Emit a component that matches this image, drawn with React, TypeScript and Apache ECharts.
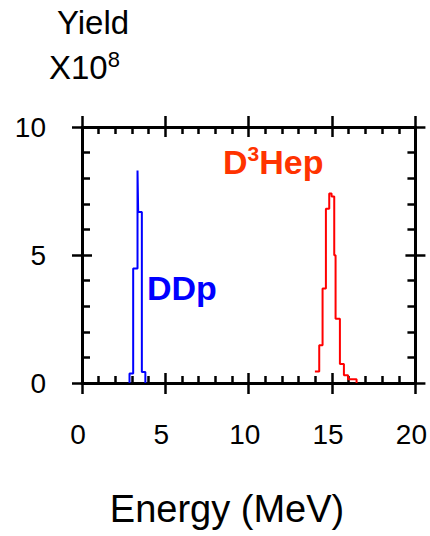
import React, { useEffect, useRef } from "react";
import * as echarts from "echarts";

// Bin edges (MeV) and yields (x10^8)
const ddpEdges = [2.85, 3.07, 3.33, 3.37, 3.59, 3.8];
const ddpCounts = [0.37, 4.47, 8.3, 6.68, 0.43];
const d3hepEdges = [13.97, 14.23, 14.43, 14.63, 14.83, 14.97, 15.13, 15.21, 15.47, 15.71, 15.96, 16.47];
const d3hepCounts = [0.45, 1.47, 3.69, 6.81, 7.4, 7.29, 4.99, 2.51, 0.74, 0.3, 0.15];
const xTicks = [0, 5, 10, 15, 20];
const yTicks = [0, 5, 10];

const FONT = "'Liberation Sans', Arial, Helvetica, sans-serif";

function stepPoints(edges: number[], counts: number[], fromBase: boolean) {
  const pts: number[][] = [];
  if (fromBase) pts.push([edges[0], 0]);
  edges.forEach((e, i) => pts.push([e, i < counts.length ? counts[i] : 0]));
  return pts;
}

export default function App() {
  const ref = useRef<HTMLDivElement>(null);
  useEffect(() => {
    if (!ref.current) return;
    const chart = echarts.init(ref.current, null, { renderer: "svg" });
    const tickStyle = { color: "#000", width: 2.5 };
    const mkX = (position: string, outer: boolean, labels: boolean) => ({
      type: "value",
      min: xTicks[0],
      max: xTicks[xTicks.length - 1],
      interval: 5,
      position,
      axisLine: { show: outer, onZero: false, lineStyle: { color: "#000", width: 3 } },
      axisTick: { show: true, inside: !outer, length: outer ? 11 : 10, lineStyle: tickStyle },
      minorTick: { show: !outer, splitNumber: 5, length: 7, lineStyle: tickStyle },
      axisLabel: {
        show: labels,
        color: "#000",
        fontSize: 28,
        fontFamily: FONT,
        margin: 37,
        padding: [0, 8, 0, 0],
      },
      splitLine: { show: false },
    });
    const mkY = (position: string, outer: boolean, labels: boolean) => ({
      type: "value",
      min: yTicks[0],
      max: yTicks[yTicks.length - 1],
      interval: 5,
      position,
      axisLine: { show: outer, onZero: false, lineStyle: { color: "#000", width: 3 } },
      axisTick: { show: true, inside: !outer, length: 10, lineStyle: tickStyle },
      minorTick: { show: !outer, splitNumber: 5, length: 8, lineStyle: tickStyle },
      axisLabel: {
        show: labels,
        color: "#000",
        fontSize: 28,
        fontFamily: FONT,
        margin: 36,
        padding: [0, 0, 8, 0],
      },
      splitLine: { show: false },
    });
    chart.setOption({
      animation: false,
      backgroundColor: "#fff",
      grid: { left: 82, top: 127, width: 334, height: 256, containLabel: false },
      xAxis: [
        mkX("bottom", true, true),
        mkX("bottom", false, false),
        mkX("top", true, false),
        mkX("top", false, false),
      ],
      yAxis: [
        mkY("left", true, true),
        mkY("left", false, false),
        mkY("right", true, false),
        mkY("right", false, false),
      ],
      series: [
        {
          name: "DDp",
          type: "line",
          step: "end",
          xAxisIndex: 0,
          yAxisIndex: 0,
          symbol: "none",
          lineStyle: { color: "#0000ff", width: 2 },
          data: stepPoints(ddpEdges, ddpCounts, true),
        },
        {
          name: "D3Hep",
          type: "line",
          step: "end",
          xAxisIndex: 0,
          yAxisIndex: 0,
          symbol: "none",
          lineStyle: { color: "#ff0000", width: 2 },
          data: stepPoints(d3hepEdges, d3hepCounts, false),
        },
      ],
      graphic: [
        {
          type: "text",
          left: 57,
          top: 6,
          style: { text: "Yield", fill: "#000", fontSize: 33, fontFamily: FONT },
        },
        {
          type: "text",
          left: 49,
          top: 48,
          style: {
            text: "{a|X10}{b|8}",
            fill: "#000",
            fontFamily: FONT,
            rich: {
              a: { fontSize: 33, fontFamily: FONT, fill: "#000", lineHeight: 38 },
              b: { fontSize: 22, fontFamily: FONT, fill: "#000", verticalAlign: "top", lineHeight: 24 },
            },
          },
        },
        {
          type: "text",
          x: 227,
          y: 509,
          style: {
            text: "Energy (MeV)",
            fill: "#000",
            fontSize: 38,
            fontFamily: FONT,
            align: "center",
            verticalAlign: "middle",
          },
        },
        {
          type: "text",
          x: 147,
          y: 288,
          style: {
            text: "DDp",
            fill: "#0000ff",
            fontSize: 34,
            fontWeight: "bold",
            fontFamily: FONT,
            align: "left",
            verticalAlign: "middle",
          },
        },
        {
          type: "text",
          left: 223,
          top: 143,
          style: {
            text: "{a|D}{b|3}{a|Hep}",
            fill: "#ff3300",
            fontFamily: FONT,
            rich: {
              a: { fontSize: 34, fontWeight: "bold", fontFamily: FONT, fill: "#ff3300", lineHeight: 38 },
              b: { fontSize: 21, fontWeight: "bold", fontFamily: FONT, fill: "#ff3300", verticalAlign: "top", lineHeight: 27 },
            },
          },
        },
      ],
    });
    return () => chart.dispose();
  }, []);
  return (
    <div
      ref={ref}
      style={{ position: "fixed", left: 0, top: 0, width: 430, height: 536 }}
    />
  );
}
